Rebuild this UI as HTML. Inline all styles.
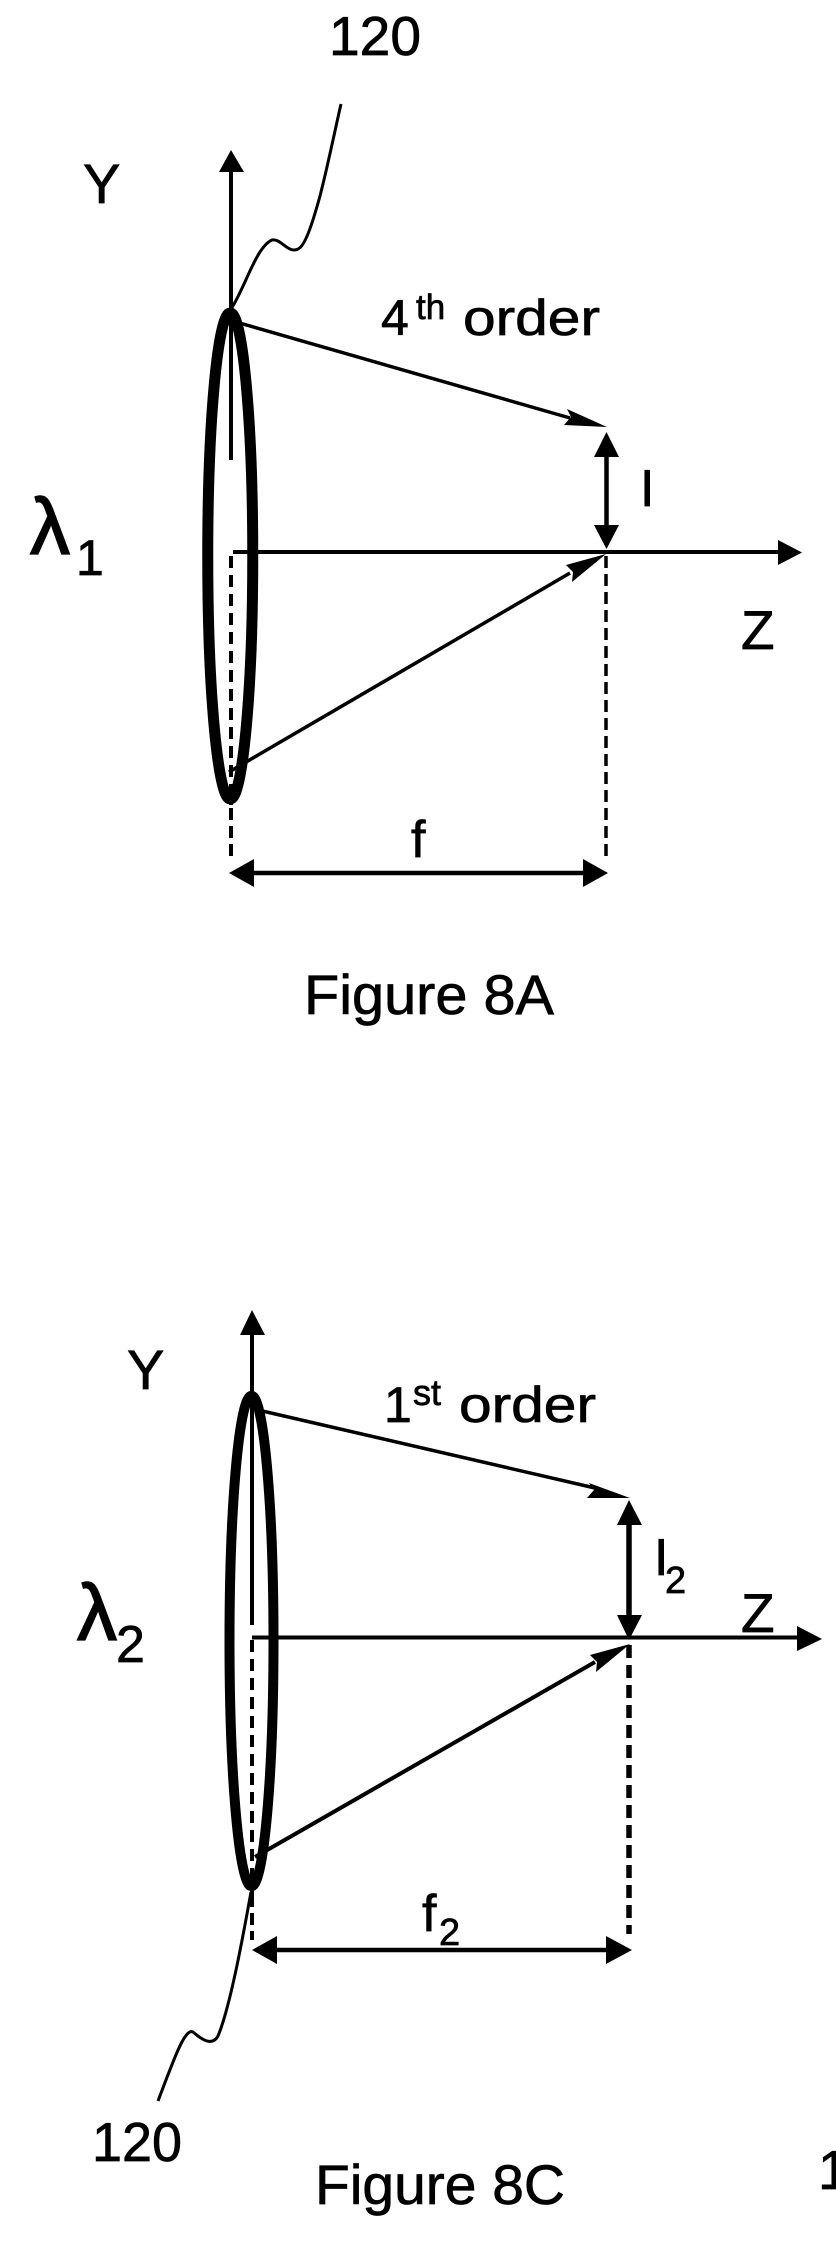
<!DOCTYPE html>
<html><head><meta charset="utf-8"><style>
html,body{margin:0;padding:0;background:#fff}
svg{display:block}
text{font-family:"Liberation Sans",sans-serif;fill:#000;stroke:#000;stroke-width:.7}
.s{stroke:#000;fill:none}
</style></head><body>
<svg width="836" height="2253" viewBox="0 0 836 2253" xmlns="http://www.w3.org/2000/svg">
<rect width="836" height="2253" fill="#fff"/>
<!-- Figure 8A -->
<text x="329" y="55" font-size="55" textLength="92" lengthAdjust="spacingAndGlyphs">120</text>
<path class="s" stroke-width="3" d="M231 309C245 288 256 247 272 240C281 238 288 254 298 249C305 246 312 225 320 196C328 165 335 130 341 104"/>
<text x="83" y="203" font-size="56">Y</text>
<ellipse class="s" cx="231" cy="556" rx="22.5" ry="243.500" stroke-width="9.5"/>
<ellipse class="s" cx="229.500" cy="556" rx="22.5" ry="243.500" stroke-width="9.5"/>
<path class="s" stroke-width="4" d="M231 170V460"/>
<path d="M231 150L244 172H219Z"/>
<text x="381" y="335" font-size="50">4</text>
<text x="416" y="319" font-size="35">th</text>
<text x="463" y="335" font-size="50" textLength="137" lengthAdjust="spacingAndGlyphs">order</text>
<path class="s" stroke-width="3.5" d="M236 322L570 418"/>
<path d="M607 427L567 409L571 417L564 425Z"/>
<path class="s" stroke-width="4.5" d="M606.5 455V527"/>
<path d="M606.5 432L619 457H594Z"/>
<path d="M606.5 549L619 525H594Z"/>
<text x="640" y="506" font-size="52">I</text>
<path class="s" stroke-width="4" d="M233 552H780"/>
<path d="M802 552.5L778 540V565Z"/>
<text x="30" y="554" font-size="80" style="stroke-width:1.5">λ</text>
<text x="76" y="575" font-size="50">1</text>
<text x="741" y="649" font-size="55">Z</text>
<path class="s" stroke-width="3.5" d="M229 772L570 573"/>
<path d="M606 554L566 565L573 572L572 582Z"/>
<path class="s" stroke-width="4" stroke-dasharray="12 7" d="M231 556V805"/>
<path class="s" stroke-width="4" stroke-dasharray="12 6" d="M231 808V862"/>
<path class="s" stroke-width="3.5" stroke-dasharray="12 6" d="M606 556V860"/>
<path class="s" stroke-width="4.5" d="M250 873H590"/>
<path d="M229 873L254 859V887Z"/>
<path d="M608 873L583 859V887Z"/>
<text x="411" y="857" font-size="52">f</text>
<text x="304" y="1014" font-size="56" textLength="250" lengthAdjust="spacingAndGlyphs">Figure 8A</text>
<!-- Figure 8C -->
<text x="127" y="1389" font-size="56">Y</text>
<ellipse class="s" cx="252" cy="1641" rx="22" ry="245.500" stroke-width="9"/>
<ellipse class="s" cx="251" cy="1641" rx="22" ry="245.500" stroke-width="9"/>
<path class="s" stroke-width="4" d="M252 1330V1625"/>
<path d="M252 1310L265 1335H240Z"/>
<text x="384" y="1422" font-size="50">1</text>
<text x="413" y="1405" font-size="36">st</text>
<text x="459" y="1422" font-size="50" textLength="137" lengthAdjust="spacingAndGlyphs">order</text>
<path class="s" stroke-width="3.5" d="M258 1410L595 1488"/>
<path d="M630 1498L589 1483L594 1490L587 1498Z"/>
<path class="s" stroke-width="5.5" d="M629 1520V1620"/>
<path d="M629 1500L642 1525H617Z"/>
<path d="M629 1640L642 1615H617Z"/>
<text x="654" y="1575" font-size="52">I</text>
<text x="665" y="1593" font-size="38">2</text>
<text x="741" y="1632" font-size="55">Z</text>
<text x="77" y="1640" font-size="80" style="stroke-width:1.5">λ</text>
<text x="116" y="1662" font-size="52">2</text>
<path class="s" stroke-width="4" d="M252 1637.5H800"/>
<path d="M822 1639L797 1626V1651Z"/>
<path class="s" stroke-width="4" d="M255 1857L595 1662"/>
<path d="M630 1644L590 1655L597 1662L596 1672Z"/>
<path class="s" stroke-width="4" stroke-dasharray="12 7" d="M252 1640V1895"/>
<path class="s" stroke-width="4" stroke-dasharray="12 6" d="M252 1895V1940"/>
<path class="s" stroke-width="5.5" stroke-dasharray="13 7" d="M629 1645V1934"/>
<path class="s" stroke-width="4.5" d="M272 1950H612"/>
<path d="M252 1950L277 1936V1964Z"/>
<path d="M632 1950L606 1936V1964Z"/>
<text x="422" y="1931" font-size="52">f</text>
<text x="439" y="1945" font-size="38">2</text>
<path class="s" stroke-width="3" d="M251 1892C245 1925 231 2005 218 2036C212 2047 201 2039 193 2032C185 2028 175 2056 158 2101"/>
<text x="92" y="2161" font-size="55" textLength="90" lengthAdjust="spacingAndGlyphs">120</text>
<text x="315" y="2204" font-size="56" textLength="250" lengthAdjust="spacingAndGlyphs">Figure 8C</text>
<text x="818" y="2189" font-size="55">1</text>
</svg>
</body></html>
